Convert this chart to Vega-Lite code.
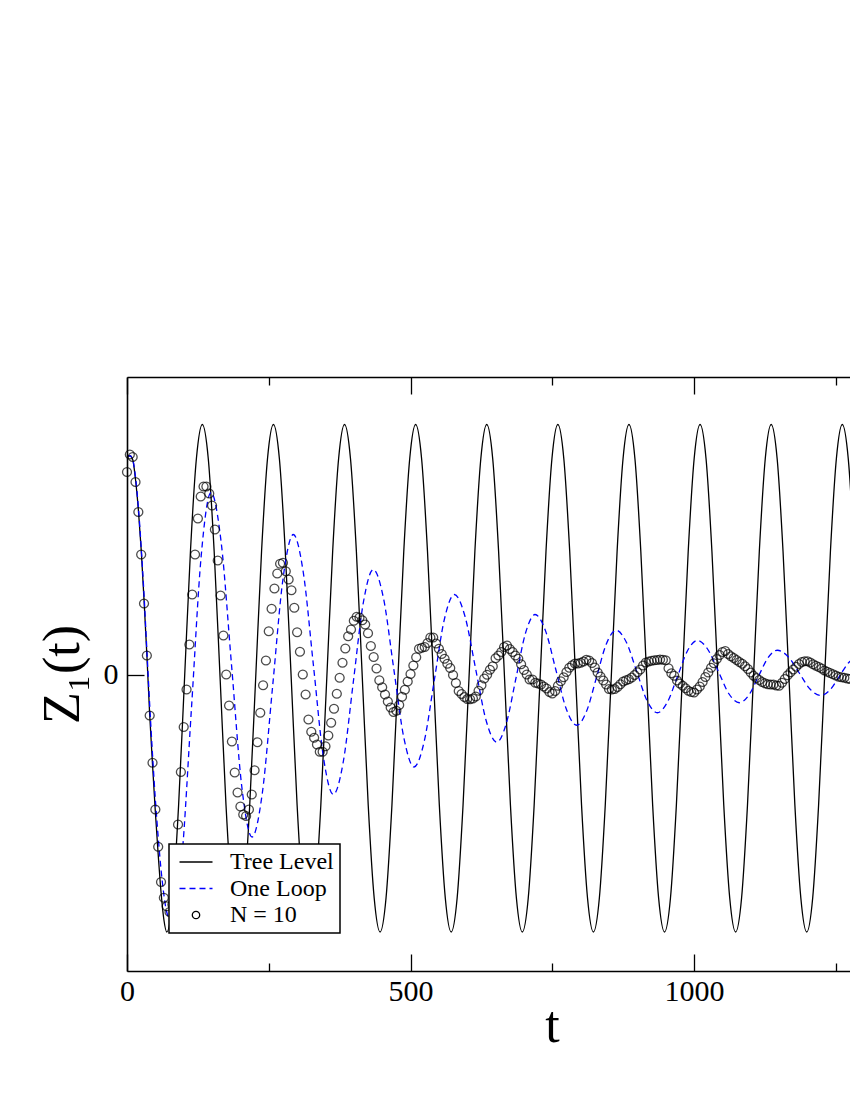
{
"$schema": "https://vega.github.io/schema/vega-lite/v6.json",
"width": 723, "height": 594,
"autosize": {"type": "none"},
"padding": {"left": 127, "top": 377, "right": 0, "bottom": 129},
"background": "white",
"config": {"view": {"stroke": null}, "font": "Liberation Serif"},
"datasets": {
"tree": [
{"t":0,"z":0.87},{"t":5,"z":0.875},{"t":10,"z":0.86},{"t":15,"z":0.78},{"t":20,"z":0.66},{"t":25,"z":0.5},{"t":30,"z":0.3},{"t":35,"z":0.08},{"t":40,"z":-0.16},{"t":45,"z":-0.36},{"t":50,"z":-0.55},{"t":55,"z":-0.72},{"t":60,"z":-0.87},{"t":65,"z":-0.98},
{"t":70.1,"z":-1.03},{"t":80.6,"z":-0.894},{"t":91.0,"z":-0.523},{"t":101.5,"z":-0.015},{"t":111.9,"z":0.493},{"t":122.4,"z":0.864},{"t":132.8,"z":1.0},{"t":143.3,"z":0.864},{"t":153.7,"z":0.493},{"t":164.2,"z":-0.015},{"t":174.6,"z":-0.523},{"t":185.1,"z":-0.894},
{"t":195.5,"z":-1.03},{"t":206.0,"z":-0.894},{"t":216.4,"z":-0.523},{"t":226.9,"z":-0.015},{"t":237.3,"z":0.493},{"t":247.8,"z":0.864},{"t":258.2,"z":1.0},{"t":268.7,"z":0.864},{"t":279.1,"z":0.493},{"t":289.6,"z":-0.015},{"t":300.0,"z":-0.523},{"t":310.5,"z":-0.894},
{"t":320.9,"z":-1.03},{"t":331.4,"z":-0.894},{"t":341.8,"z":-0.523},{"t":352.3,"z":-0.015},{"t":362.7,"z":0.493},{"t":373.2,"z":0.864},{"t":383.6,"z":1.0},{"t":394.1,"z":0.864},{"t":404.5,"z":0.493},{"t":415.0,"z":-0.015},{"t":425.4,"z":-0.523},{"t":435.9,"z":-0.894},
{"t":446.3,"z":-1.03},{"t":456.8,"z":-0.894},{"t":467.2,"z":-0.523},{"t":477.7,"z":-0.015},{"t":488.1,"z":0.493},{"t":498.6,"z":0.864},{"t":509.0,"z":1.0},{"t":519.5,"z":0.864},{"t":529.9,"z":0.493},{"t":540.4,"z":-0.015},{"t":550.8,"z":-0.523},{"t":561.3,"z":-0.894},
{"t":571.7,"z":-1.03},{"t":582.2,"z":-0.894},{"t":592.6,"z":-0.523},{"t":603.1,"z":-0.015},{"t":613.5,"z":0.493},{"t":624.0,"z":0.864},{"t":634.4,"z":1.0},{"t":644.9,"z":0.864},{"t":655.3,"z":0.493},{"t":665.8,"z":-0.015},{"t":676.2,"z":-0.523},{"t":686.7,"z":-0.894},
{"t":697.1,"z":-1.03},{"t":707.6,"z":-0.894},{"t":718.0,"z":-0.523},{"t":728.5,"z":-0.015},{"t":738.9,"z":0.493},{"t":749.4,"z":0.864},{"t":759.8,"z":1.0},{"t":770.3,"z":0.864},{"t":780.7,"z":0.493},{"t":791.2,"z":-0.015},{"t":801.6,"z":-0.523},{"t":812.1,"z":-0.894},
{"t":822.5,"z":-1.03},{"t":833.0,"z":-0.894},{"t":843.4,"z":-0.523},{"t":853.9,"z":-0.015},{"t":864.3,"z":0.493},{"t":874.8,"z":0.864},{"t":885.2,"z":1.0},{"t":895.7,"z":0.864},{"t":906.1,"z":0.493},{"t":916.6,"z":-0.015},{"t":927.0,"z":-0.523},{"t":937.5,"z":-0.894},
{"t":947.9,"z":-1.03},{"t":958.4,"z":-0.894},{"t":968.8,"z":-0.523},{"t":979.3,"z":-0.015},{"t":989.7,"z":0.493},{"t":1000.2,"z":0.864},{"t":1010.6,"z":1.0},{"t":1021.1,"z":0.864},{"t":1031.5,"z":0.493},{"t":1042.0,"z":-0.015},{"t":1052.4,"z":-0.523},{"t":1062.9,"z":-0.894},
{"t":1073.3,"z":-1.03},{"t":1083.8,"z":-0.894},{"t":1094.2,"z":-0.523},{"t":1104.7,"z":-0.015},{"t":1115.1,"z":0.493},{"t":1125.6,"z":0.864},{"t":1136.0,"z":1.0},{"t":1146.5,"z":0.864},{"t":1156.9,"z":0.493},{"t":1167.4,"z":-0.015},{"t":1177.8,"z":-0.523},{"t":1188.3,"z":-0.894},
{"t":1198.7,"z":-1.03},{"t":1209.2,"z":-0.894},{"t":1219.6,"z":-0.523},{"t":1230.1,"z":-0.015},{"t":1240.5,"z":0.493},{"t":1251.0,"z":0.864},{"t":1261.4,"z":1.0},{"t":1271.9,"z":0.864},{"t":1282.3,"z":0.493},{"t":1292.8,"z":-0.015},{"t":1303.2,"z":-0.523},{"t":1313.7,"z":-0.894},
{"t":1324.1,"z":-1.03}
],
"loop": [
{"t":0,"z":0.87},{"t":5,"z":0.875},{"t":10,"z":0.86},{"t":15,"z":0.79},{"t":20,"z":0.67},{"t":25,"z":0.51},{"t":30,"z":0.32},{"t":35,"z":0.1},{"t":40,"z":-0.12},{"t":45,"z":-0.32},{"t":50,"z":-0.5},{"t":55,"z":-0.65},{"t":60,"z":-0.78},{"t":65,"z":-0.88},{"t":70,"z":-0.95},{"t":79.4,"z":-0.99},
{"t":96.6,"z":-0.738},{"t":113.8,"z":-0.131},{"t":130.9,"z":0.476},{"t":148.1,"z":0.728},{"t":166.2,"z":0.526},{"t":184.3,"z":0.039},{"t":202.4,"z":-0.448},{"t":220.5,"z":-0.65},{"t":238.7,"z":-0.473},{"t":256.9,"z":-0.045},{"t":275.1,"z":0.383},{"t":293.3,"z":0.56},{"t":310.9,"z":0.408},{"t":328.6,"z":0.04},{"t":346.2,"z":-0.328},{"t":363.8,"z":-0.48},{"t":381.5,"z":-0.348},{"t":399.1,"z":-0.03},{"t":416.8,"z":0.288},{"t":434.4,"z":0.42},{"t":452.4,"z":0.304},{"t":470.3,"z":0.025},{"t":488.3,"z":-0.254},{"t":506.2,"z":-0.37},{"t":524.0,"z":-0.269},{"t":541.8,"z":-0.025},{"t":559.5,"z":0.219},{"t":577.3,"z":0.32},{"t":596.0,"z":0.233},{"t":614.7,"z":0.024},{"t":633.3,"z":-0.184},{"t":652.0,"z":-0.271},{"t":668.9,"z":-0.196},{"t":685.8,"z":-0.016},{"t":702.7,"z":0.165},{"t":719.6,"z":0.24},{"t":738.0,"z":0.175},{"t":756.4,"z":0.018},{"t":774.7,"z":-0.138},{"t":793.1,"z":-0.203},{"t":810.4,"z":-0.147},{"t":827.8,"z":-0.013},{"t":845.1,"z":0.121},{"t":862.4,"z":0.177},{"t":880.6,"z":0.129},{"t":898.9,"z":0.012},{"t":917.1,"z":-0.105},{"t":935.3,"z":-0.153},{"t":952.9,"z":-0.111},{"t":970.6,"z":-0.009},{"t":988.2,"z":0.094},{"t":1005.8,"z":0.136},{"t":1024.3,"z":0.1},{"t":1042.9,"z":0.012},{"t":1061.4,"z":-0.077},{"t":1079.9,"z":-0.113},{"t":1096.7,"z":-0.082},{"t":1113.4,"z":-0.008},{"t":1130.2,"z":0.066},{"t":1146.9,"z":0.097},{"t":1166.0,"z":0.071},{"t":1185.2,"z":0.007},{"t":1204.4,"z":-0.058},{"t":1223.5,"z":-0.084},{"t":1239.9,"z":-0.061},{"t":1256.3,"z":-0.007},{"t":1272.6,"z":0.047},{"t":1289,"z":0.07},{"t":1306.8,"z":0.051},{"t":1324.5,"z":0.005}
],
"n10": [
{"t":0,"z":0.81},{"t":5,"z":0.88},{"t":10,"z":0.87},{"t":15,"z":0.77},{"t":20,"z":0.65},{"t":25,"z":0.48},{"t":30,"z":0.284},{"t":35,"z":0.076},{"t":40,"z":-0.164},{"t":45,"z":-0.353},{"t":50,"z":-0.54},{"t":55,"z":-0.689},{"t":60,"z":-0.83},{"t":65,"z":-0.893},{"t":70,"z":-0.927},{"t":75,"z":-0.95},{"t":80,"z":-0.92},{"t":85,"z":-0.79},{"t":90,"z":-0.6},{"t":95,"z":-0.39},
{"t":100,"z":-0.21},{"t":105,"z":-0.06},{"t":110,"z":0.12},{"t":115,"z":0.32},{"t":120,"z":0.48},{"t":125,"z":0.624},{"t":130,"z":0.712},{"t":135,"z":0.752},{"t":140,"z":0.752},{"t":145,"z":0.724},{"t":150,"z":0.676},{"t":155,"z":0.58},{"t":160,"z":0.456},{"t":165,"z":0.316},{"t":170,"z":0.156},{"t":175,"z":0.0},{"t":180,"z":-0.124},{"t":185,"z":-0.268},{"t":190,"z":-0.392},{"t":195,"z":-0.472},
{"t":200,"z":-0.528},{"t":205,"z":-0.56},{"t":210,"z":-0.566},{"t":215,"z":-0.54},{"t":220,"z":-0.48},{"t":225,"z":-0.383},{"t":230,"z":-0.271},{"t":235,"z":-0.153},{"t":240,"z":-0.043},{"t":245,"z":0.056},{"t":250,"z":0.173},{"t":255,"z":0.263},{"t":260,"z":0.344},{"t":265,"z":0.404},{"t":270,"z":0.443},{"t":275,"z":0.447},{"t":280,"z":0.413},{"t":285,"z":0.38},{"t":290,"z":0.337},{"t":295,"z":0.267},
{"t":300,"z":0.169},{"t":305,"z":0.091},{"t":310,"z":0.0},{"t":315,"z":-0.08},{"t":320,"z":-0.18},{"t":325,"z":-0.229},{"t":330,"z":-0.253},{"t":335,"z":-0.28},{"t":340,"z":-0.309},{"t":345,"z":-0.309},{"t":350,"z":-0.287},{"t":355,"z":-0.244},{"t":360,"z":-0.193},{"t":365,"z":-0.137},{"t":370,"z":-0.077},{"t":375,"z":-0.013},{"t":380,"z":0.047},{"t":385,"z":0.104},{"t":390,"z":0.153},{"t":395,"z":0.18},
{"t":400,"z":0.215},{"t":405,"z":0.231},{"t":410,"z":0.228},{"t":415,"z":0.217},{"t":420,"z":0.2},{"t":425,"z":0.165},{"t":430,"z":0.114},{"t":435,"z":0.07},{"t":440,"z":0.024},{"t":445,"z":-0.023},{"t":450,"z":-0.051},{"t":455,"z":-0.08},{"t":460,"z":-0.108},{"t":465,"z":-0.132},{"t":470,"z":-0.15},{"t":475,"z":-0.145},{"t":480,"z":-0.122},{"t":485,"z":-0.089},{"t":490,"z":-0.061},{"t":495,"z":-0.028},
{"t":500,"z":0.002},{"t":505,"z":0.036},{"t":510,"z":0.069},{"t":515,"z":0.103},{"t":520,"z":0.107},{"t":525,"z":0.11},{"t":530,"z":0.126},{"t":535,"z":0.148},{"t":540,"z":0.148},{"t":545,"z":0.124},{"t":550,"z":0.103},{"t":555,"z":0.082},{"t":560,"z":0.063},{"t":565,"z":0.043},{"t":570,"z":0.026},{"t":575,"z":-0.002},{"t":580,"z":-0.034},{"t":585,"z":-0.066},{"t":590,"z":-0.078},{"t":595,"z":-0.09},
{"t":600,"z":-0.098},{"t":605,"z":-0.099},{"t":610,"z":-0.096},{"t":615,"z":-0.088},{"t":620,"z":-0.065},{"t":625,"z":-0.043},{"t":630,"z":-0.016},{"t":635,"z":-0.001},{"t":640,"z":0.019},{"t":645,"z":0.033},{"t":650,"z":0.065},{"t":655,"z":0.076},{"t":660,"z":0.09},{"t":665,"z":0.11},{"t":670,"z":0.116},{"t":675,"z":0.102},{"t":680,"z":0.09},{"t":685,"z":0.076},{"t":690,"z":0.063},{"t":695,"z":0.041},
{"t":700,"z":0.018},{"t":705,"z":0.0},{"t":710,"z":-0.02},{"t":715,"z":-0.02},{"t":720,"z":-0.033},{"t":725,"z":-0.036},{"t":730,"z":-0.04},{"t":735,"z":-0.048},{"t":740,"z":-0.056},{"t":745,"z":-0.07},{"t":750,"z":-0.076},{"t":755,"z":-0.066},{"t":760,"z":-0.045},{"t":765,"z":-0.027},{"t":770,"z":-0.011},{"t":775,"z":0.01},{"t":780,"z":0.027},{"t":785,"z":0.037},{"t":790,"z":0.044},{"t":795,"z":0.044},
{"t":800,"z":0.047},{"t":805,"z":0.052},{"t":810,"z":0.059},{"t":815,"z":0.056},{"t":820,"z":0.046},{"t":825,"z":0.028},{"t":830,"z":0.008},{"t":835,"z":-0.008},{"t":840,"z":-0.024},{"t":845,"z":-0.04},{"t":850,"z":-0.058},{"t":855,"z":-0.06},{"t":860,"z":-0.058},{"t":865,"z":-0.05},{"t":870,"z":-0.039},{"t":875,"z":-0.028},{"t":880,"z":-0.023},{"t":885,"z":-0.019},{"t":890,"z":-0.012},{"t":895,"z":-0.002},
{"t":900,"z":0.009},{"t":905,"z":0.02},{"t":910,"z":0.036},{"t":915,"z":0.048},{"t":920,"z":0.052},{"t":925,"z":0.055},{"t":930,"z":0.057},{"t":935,"z":0.058},{"t":940,"z":0.06},{"t":945,"z":0.059},{"t":950,"z":0.057},{"t":955,"z":0.025},{"t":960,"z":0.005},{"t":965,"z":-0.005},{"t":970,"z":-0.024},{"t":975,"z":-0.036},{"t":980,"z":-0.045},{"t":985,"z":-0.055},{"t":990,"z":-0.065},{"t":995,"z":-0.07},
{"t":1000,"z":-0.072},{"t":1005,"z":-0.06},{"t":1010,"z":-0.048},{"t":1015,"z":-0.03},{"t":1020,"z":-0.01},{"t":1025,"z":0.008},{"t":1030,"z":0.027},{"t":1035,"z":0.045},{"t":1040,"z":0.062},{"t":1045,"z":0.078},{"t":1050,"z":0.09},{"t":1055,"z":0.094},{"t":1060,"z":0.082},{"t":1065,"z":0.073},{"t":1070,"z":0.066},{"t":1075,"z":0.058},{"t":1080,"z":0.05},{"t":1085,"z":0.043},{"t":1090,"z":0.033},{"t":1095,"z":0.022},
{"t":1100,"z":0.008},{"t":1105,"z":-0.005},{"t":1110,"z":-0.014},{"t":1115,"z":-0.022},{"t":1120,"z":-0.03},{"t":1125,"z":-0.035},{"t":1130,"z":-0.039},{"t":1135,"z":-0.04},{"t":1140,"z":-0.04},{"t":1145,"z":-0.044},{"t":1150,"z":-0.045},{"t":1155,"z":-0.033},{"t":1160,"z":-0.018},{"t":1165,"z":-0.003},{"t":1170,"z":0.009},{"t":1175,"z":0.02},{"t":1180,"z":0.031},{"t":1185,"z":0.042},{"t":1190,"z":0.05},{"t":1195,"z":0.053},
{"t":1200,"z":0.053},{"t":1205,"z":0.048},{"t":1210,"z":0.041},{"t":1215,"z":0.035},{"t":1220,"z":0.03},{"t":1225,"z":0.024},{"t":1230,"z":0.016},{"t":1235,"z":0.011},{"t":1240,"z":0.006},{"t":1245,"z":0.001},{"t":1250,"z":-0.004},{"t":1255,"z":-0.009},{"t":1260,"z":-0.011},{"t":1265,"z":-0.013},{"t":1270,"z":-0.016},{"t":1275,"z":-0.018}
]
},
"resolve": {"axis": {"x": "independent", "y": "independent"}},
"layer": [
{
"data": {"name": "tree"},
"mark": {"type": "line", "interpolate": "monotone", "strokeWidth": 1.3, "clip": true},
"encoding": {
"x": {"field": "t", "type": "quantitative", "scale": {"domain": [0, 1275], "nice": false, "zero": false},
"axis": {"orient": "bottom", "zindex": 2, "values": [0, 250, 500, 750, 1000, 1250], "format": "d", "grid": false,
"domainColor": "black", "domainWidth": 1.6, "tickColor": "black", "tickWidth": 1.3,
"tickSize": {"condition": {"test": "datum.value % 500 === 0", "value": -17}, "value": -8},
"labelExpr": "datum.value % 500 === 0 ? datum.label : ''",
"labelFont": "Liberation Serif", "labelFontSize": 30, "labelColor": "black", "labelPadding": 22, "labelFlush": false, "labelOverlap": false,
"title": "t", "titleFont": "Liberation Serif", "titleFontSize": 52, "titleFontWeight": "normal", "titleColor": "black",
"titleX": 425, "titleY": 70, "titleBaseline": "alphabetic", "titleAlign": "center"}},
"y": {"field": "z", "type": "quantitative", "scale": {"domain": [-1.186, 1.19], "nice": false, "zero": false},
"axis": {"orient": "left", "zindex": 2, "values": [0], "grid": false, "domainColor": "black", "domainWidth": 1.6, "tickColor": "black", "tickWidth": 1.3,
"tickSize": {"condition": {"test": "datum.value === 0", "value": -17}, "value": -8},
"labelFont": "Liberation Serif", "labelFontSize": 30, "labelColor": "black", "labelPadding": 26,
"title": "Z₁(t)", "titleFont": "Liberation Serif", "titleFontSize": 52, "titleFontWeight": "normal", "titleColor": "black",
"titleAngle": -90, "titleX": -49, "titleY": 297, "titleBaseline": "alphabetic", "titleAlign": "center"}},
"color": {"datum": "Tree Level", "type": "nominal",
"scale": {"domain": ["Tree Level", "One Loop", "N = 10"], "range": ["black", "blue", "black"]},
"legend": {"orient": "none", "legendX": 42, "legendY": 467, "title": null, "direction": "vertical", "zindex": 3,
"fillColor": "white", "strokeColor": "black", "padding": 6,
"labelFont": "Liberation Serif", "labelFontSize": 24, "labelColor": "black", "labelOffset": 22,
"symbolType": "stroke", "symbolSize": 100, "symbolOffset": 9, "symbolStrokeWidth": 1.3, "rowPadding": 2.5,
"encode": {
"legend": {"update": {"strokeWidth": {"value": 1.5}}},
"symbols": {"update": {
"shape": {"signal": "datum.value === 'N = 10' ? 'circle' : 'M-1.5,0H1.5'"},
"size": {"signal": "datum.value === 'N = 10' ? 55 : 484"},
"strokeDash": {"signal": "datum.value === 'One Loop' ? [6, 4] : []"},
"stroke": {"signal": "datum.value === 'One Loop' ? 'blue' : 'black'"},
"fill": {"value": "transparent"},
"strokeWidth": {"value": 1.3}}}}}}
}
},
{
"data": {"name": "loop"},
"mark": {"type": "line", "interpolate": "monotone", "strokeWidth": 1.3, "strokeDash": [6, 4], "clip": true},
"encoding": {
"x": {"field": "t", "type": "quantitative",
"axis": {"orient": "top", "zindex": 2, "values": [0, 250, 500, 750, 1000, 1250], "grid": false, "labels": false, "title": null,
"domainColor": "black", "domainWidth": 1.6, "tickColor": "black", "tickWidth": 1.3,
"tickSize": {"condition": {"test": "datum.value % 500 === 0", "value": -17}, "value": -8}}},
"y": {"field": "z", "type": "quantitative", "axis": null},
"color": {"datum": "One Loop", "type": "nominal"}
}
},
{
"data": {"name": "n10"},
"mark": {"type": "point", "shape": "circle", "filled": false, "size": 80, "strokeWidth": 1.3},
"encoding": {
"x": {"field": "t", "type": "quantitative", "axis": null},
"y": {"field": "z", "type": "quantitative", "axis": null},
"color": {"datum": "N = 10", "type": "nominal"}
}
}
]
}
